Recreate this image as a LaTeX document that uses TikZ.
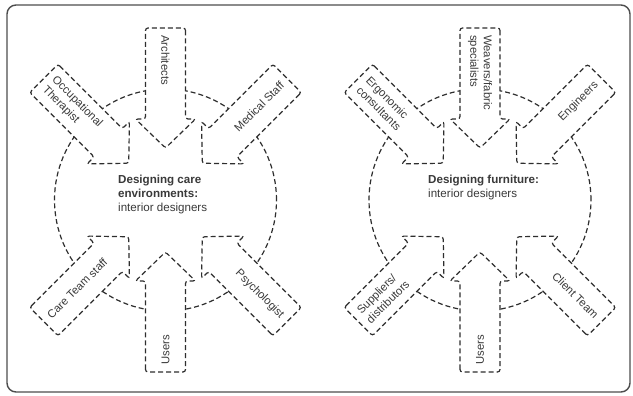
\documentclass[tikz,border=0pt]{standalone}
\usepackage{fontspec}
\setmainfont{Liberation Sans}
\usetikzlibrary{calc}
\definecolor{ink}{HTML}{2E2E2E}
\definecolor{txt}{HTML}{3A3A3A}
\tikzset{
  frame/.style={draw=ink!85, line width=1.4pt, rounded corners=9pt},
  dashline/.style={draw=ink, line width=1.2pt, dash pattern=on 5pt off 3pt},
  arrowbox/.style={dashline, fill=white, rounded corners=2.5pt},
  lbl/.style={font=\fontsize{11.3}{13.5}\selectfont, text=txt, inner sep=0pt, align=left},
  ctext/.style={font=\fontsize{11.6}{14}\selectfont, text=txt, inner sep=0pt, align=left}
}
% #1 centre, #2 angle, #3 text rotation, #4 anchor, #5 text, #6 name
\newcommand{\flowarrow}[6]{%
  \begin{scope}[shift={(#1)}, rotate=#2]
    \draw[arrowbox] (172,-20) -- (81,-20) -- (81,-30) -- (52,0) -- (81,30) -- (81,20) -- (172,20) -- cycle;
  \end{scope}
  \node[lbl, rotate=#3, anchor=#4] (#6) at ([shift={(#2:165)}]#1) {#5};
}
\begin{document}
\begin{tikzpicture}[x=1pt,y=1pt]
\useasboundingbox (0,0) rectangle (633,396);
\fill[white] (0,0) rectangle (633,396);
\draw[frame] (7,4) rectangle (630,391);
\coordinate (cL) at (165.5,196);
\coordinate (cR) at (480,196);
\draw[dashline] (cL) circle (111);
\draw[dashline] (cR) circle (111);
% left diagram
\flowarrow{cL}{135}{-45}{west}{Occupational\\Therapist}{ot}
\flowarrow{cL}{45}{45}{east}{Medical Staff}{ms}
\flowarrow{cL}{225}{45}{west}{Care Team staff}{ct}
\flowarrow{cL}{315}{-45}{east}{Psychologist}{ps}
\flowarrow{cL}{90}{-90}{west}{Architects}{ar}
\flowarrow{cL}{270}{90}{west}{Users}{usL}
% right diagram
\flowarrow{cR}{135}{-45}{west}{Ergonomic\\consultants}{er}
\flowarrow{cR}{45}{45}{east}{Engineers}{en}
\flowarrow{cR}{225}{45}{west}{Suppliers/\\distributors}{su}
\flowarrow{cR}{315}{-45}{east}{Client Team}{cl}
\flowarrow{cR}{90}{-90}{west}{Weavers/fabric\\specialists}{we}
\flowarrow{cR}{270}{90}{west}{Users}{usR}
% centre texts
\node[ctext, anchor=north west] (tL) at (118,221) {\textbf{Designing care}\\\textbf{environments:}\\interior designers};
\node[ctext, anchor=north west] (tR) at (428,221) {\textbf{Designing furniture:}\\interior designers};
\end{tikzpicture}
\end{document}
